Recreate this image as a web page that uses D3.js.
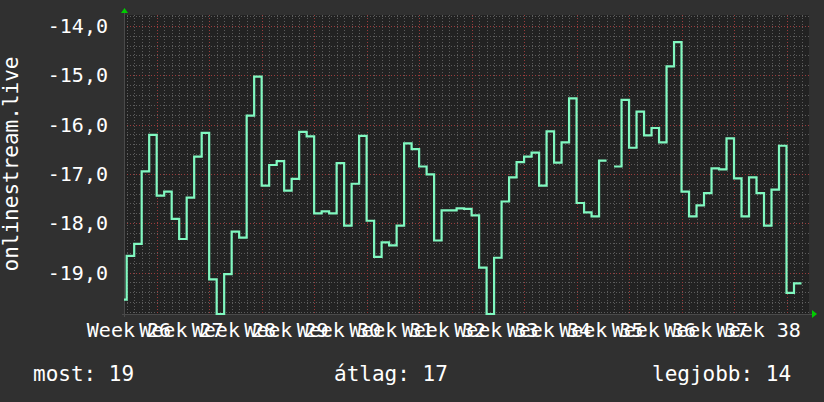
<!DOCTYPE html>
<html>
<head>
<meta charset="utf-8">
<script src="https://cdn.jsdelivr.net/npm/d3@7"></script>
<style>
  html, body { margin: 0; padding: 0; background: #303030; }
  svg { display: block; }
  text { font-family: "DejaVu Sans Mono", monospace; fill: #ffffff; }
</style>
</head>
<body>
<div id="chart"></div>
<script>
// daily values, day 1 .. day 91 (null = no data)
const values = [
  -19.55, -18.66, -18.42, -16.95, -16.21, -17.44, -17.36, -17.91, -18.32, -17.48,
  -16.65, -16.17, -19.14, -19.84, -19.03, -18.17, -18.29, -15.82, -15.03, -17.24,
  -16.82, -16.74, -17.34, -17.10, -16.15, -16.24, -17.80, -17.76, -17.80, -16.78,
  -18.05, -17.20, -16.23, -17.95, -18.68, -18.39, -18.45, -18.05, -16.38, -16.50,
  -16.85, -17.01, -18.35, -17.74, -17.74, -17.70, -17.71, -17.84, -18.90, -19.84,
  -18.70, -17.56, -17.07, -16.76, -16.65, -16.57, -17.24, -16.14, -16.77, -16.36,
  -15.47, -17.59, -17.78, -17.86, -16.73, null,   -16.85, -15.50, -16.47, -15.74,
  -16.22, -16.07, -16.36, -14.82, -14.33, -17.36, -17.86, -17.64, -17.39, -16.89,
  -16.91, -16.28, -17.09, -17.86, -17.07, -17.39, -18.05, -17.32, -16.43, -19.41,
  -19.22
];
const weekLabels = ["Week 26", "Week 27", "Week 28", "Week 29", "Week 30", "Week 31", "Week 32",
  "Week 33", "Week 34", "Week 35", "Week 36", "Week 37", "Week 38"];
const yTicks = [-14, -15, -16, -17, -18, -19];
const yTickLabels = ["-14,0", "-15,0", "-16,0", "-17,0", "-18,0", "-19,0"];
const axisTitle = "onlinestream.live";
const legendItems = ["most: 19", "átlag: 17", "legjobb: 14"];

const width = 824;
const height = 402;
const plot = { left: 124, right: 809, top: 15, bottom: 315 };

const svg = d3.select("#chart").append("svg")
  .attr("width", width)
  .attr("height", height);

svg.append("rect")
  .attr("width", width).attr("height", height)
  .attr("fill", "#303030");

svg.append("rect")
  .attr("x", plot.left).attr("y", plot.top)
  .attr("width", plot.right - plot.left).attr("height", plot.bottom - plot.top)
  .attr("fill", "#222222");

// one unit = one day, day k covers [k-1, k]
const x = d3.scaleLinear()
  .domain([0.64, 92])
  .range([plot.left, plot.right]);

const y = d3.scaleLinear()
  .domain([-19.86, -13.78])
  .range([plot.bottom, plot.top]);

// minor grid
const grid = svg.append("g");
const dayLines = d3.range(1, 92);
grid.selectAll(".vminor")
  .data(dayLines.filter(d => (d - 5) % 7 !== 0))
  .join("line")
  .attr("x1", d => Math.round(x(d)) + 0.5).attr("x2", d => Math.round(x(d)) + 0.5)
  .attr("y1", plot.top).attr("y2", plot.bottom)
  .attr("stroke", "#5c5c5c")
  .attr("stroke-dasharray", "1,2");

const hLines = d3.range(-19.8, -13.7, 0.2).map(v => Math.round(v * 10) / 10);
grid.selectAll(".hminor")
  .data(hLines.filter(v => Math.abs(v - Math.round(v)) > 0.01))
  .join("line")
  .attr("x1", plot.left).attr("x2", plot.right)
  .attr("y1", d => Math.round(y(d)) + 0.5).attr("y2", d => Math.round(y(d)) + 0.5)
  .attr("stroke", "#5c5c5c")
  .attr("stroke-dasharray", "1,2");

// major grid
grid.selectAll(".vmajor")
  .data(dayLines.filter(d => (d - 5) % 7 === 0))
  .join("line")
  .attr("x1", d => Math.round(x(d)) + 0.5).attr("x2", d => Math.round(x(d)) + 0.5)
  .attr("y1", plot.top).attr("y2", plot.bottom)
  .attr("stroke", "#9a3c3c")
  .attr("stroke-dasharray", "1,2");

grid.selectAll(".hmajor")
  .data(yTicks)
  .join("line")
  .attr("x1", plot.left).attr("x2", plot.right)
  .attr("y1", d => Math.round(y(d)) + 0.5).attr("y2", d => Math.round(y(d)) + 0.5)
  .attr("stroke", "#9a3c3c")
  .attr("stroke-dasharray", "1,2");

// axes
svg.append("line")
  .attr("x1", plot.left + 0.5).attr("x2", plot.left + 0.5)
  .attr("y1", plot.top - 4).attr("y2", plot.bottom + 2)
  .attr("stroke", "#4a4a4a");
svg.append("line")
  .attr("x1", plot.left - 2).attr("x2", plot.right + 4)
  .attr("y1", plot.bottom - 0.5).attr("y2", plot.bottom - 0.5)
  .attr("stroke", "#4a4a4a");

svg.append("path")
  .attr("d", `M${plot.left - 3},${plot.top - 2} L${plot.left + 4},${plot.top - 2} L${plot.left + 0.5},${plot.top - 7} Z`)
  .attr("fill", "#00cc00");
svg.append("path")
  .attr("d", `M${plot.right + 3},${plot.bottom - 5} L${plot.right + 3},${plot.bottom + 3} L${plot.right + 8},${plot.bottom - 1} Z`)
  .attr("fill", "#00cc00");

// step line
const pts = [];
values.forEach((v, i) => {
  pts.push({ t: i, v: v });
  pts.push({ t: i + 1, v: v });
});

svg.append("clipPath").attr("id", "clip")
  .append("rect")
  .attr("x", plot.left).attr("y", plot.top - 2)
  .attr("width", plot.right - plot.left).attr("height", plot.bottom - plot.top + 4);

const line = d3.line()
  .defined(d => d.v !== null)
  .x(d => x(d.t))
  .y(d => y(d.v));

svg.append("path")
  .datum(pts)
  .attr("clip-path", "url(#clip)")
  .attr("fill", "none")
  .attr("stroke", "#80f8c0")
  .attr("stroke-width", 2.2)
  .attr("d", line);

// y labels
svg.append("g")
  .selectAll("text")
  .data(yTicks)
  .join("text")
  .attr("x", 108)
  .attr("y", d => y(d))
  .attr("dy", "0.36em")
  .attr("text-anchor", "end")
  .attr("font-size", 20)
  .text((d, i) => yTickLabels[i]);

// x labels, one per week (they overlap in the original too)
svg.append("g")
  .selectAll("text")
  .data(weekLabels)
  .join("text")
  .attr("x", (d, i) => x(1.3 + i * 7))
  .attr("y", 337)
  .attr("text-anchor", "middle")
  .attr("font-size", 20)
  .text(d => d);

svg.append("text")
  .attr("transform", "translate(18,164) rotate(-90)")
  .attr("text-anchor", "middle")
  .attr("font-size", 21)
  .text(axisTitle);

// legend
const legendX = [33, 334, 652];
svg.append("g")
  .selectAll("text")
  .data(legendItems)
  .join("text")
  .attr("x", (d, i) => legendX[i])
  .attr("y", 381)
  .attr("font-size", 21)
  .text(d => d);
</script>
</body>
</html>
